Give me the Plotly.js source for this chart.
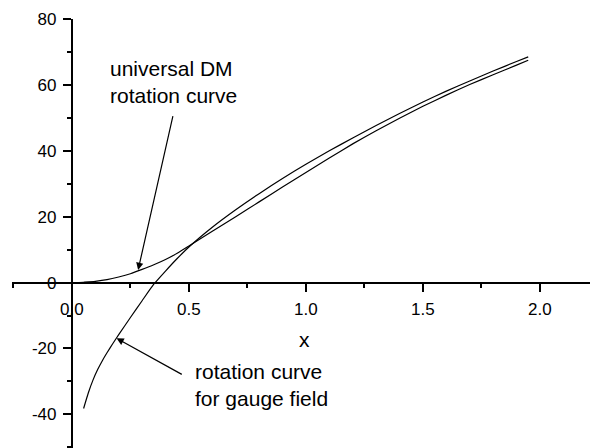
<!DOCTYPE html>
<html>
<head>
<meta charset="utf-8">
<script src="https://cdn.plot.ly/plotly-3.0.1.min.js"></script>
<style>html,body{margin:0;padding:0;background:#fff;}#chart{width:590px;height:448px;}</style>
</head>
<body>
<div id="chart"></div>
<script>
// Universal DM rotation curve
const dmX = [0.03, 0.05, 0.1, 0.15, 0.2, 0.25, 0.3, 0.35, 0.4, 0.45, 0.5, 0.6, 0.7, 0.8, 0.9, 1.0, 1.1, 1.2, 1.3, 1.4, 1.5, 1.6, 1.7, 1.8, 1.9, 1.95];
const dmY = [0.0, 0.1, 0.4, 0.9, 1.7, 2.7, 4.0, 5.4, 7.0, 8.9, 11.1, 15.6, 20.0, 24.5, 29.0, 33.4, 37.8, 42.1, 46.1, 49.9, 53.5, 56.9, 60.1, 63.1, 66.0, 67.5];
// Rotation curve for gauge field
const gX = [0.05, 0.07, 0.09, 0.11, 0.13, 0.15, 0.175, 0.2, 0.25, 0.3, 0.35, 0.4, 0.45, 0.5, 0.6, 0.7, 0.8, 0.9, 1.0, 1.1, 1.2, 1.3, 1.4, 1.5, 1.6, 1.7, 1.8, 1.9, 1.95];
const gY = [-38.2, -33.5, -29.6, -26.4, -23.7, -21.3, -18.5, -15.8, -10.6, -5.5, -0.5, 3.5, 7.3, 10.8, 16.8, 22.1, 27.0, 31.6, 35.9, 40.0, 43.9, 47.7, 51.3, 54.8, 58.1, 61.2, 64.2, 67.1, 68.5];

const xTickVals = [0, 0.5, 1.0, 1.5, 2.0];
const xTickText = ['0.0', '0.5', '1.0', '1.5', '2.0'];
const yTickVals = [-40, -20, 0, 20, 40, 60, 80];
const yTickText = ['-40', '-20', '0', '20', '40', '60', '80'];

const labelDM = 'universal DM<br>rotation curve';
const labelGauge = 'rotation curve<br>for gauge field';
const xTitle = 'x';

const fontFam = 'Liberation Sans, Arial, sans-serif';

const traces = [
  {x: dmX, y: dmY, mode: 'lines', line: {color: '#000', width: 1.2, shape: 'spline', smoothing: 0.5}, showlegend: false, hoverinfo: 'skip'},
  {x: gX, y: gY, mode: 'lines', line: {color: '#000', width: 1.2, shape: 'spline', smoothing: 0.5}, showlegend: false, hoverinfo: 'skip'}
];

const layout = {
  width: 590, height: 448,
  margin: {l: 12, r: 0, t: 19, b: 0, pad: 0},
  paper_bgcolor: '#fff', plot_bgcolor: '#fff',
  font: {family: fontFam, size: 17, color: '#000'},
  showlegend: false,
  xaxis: {
    range: [-0.256, 2.214], anchor: 'free', position: 0.3856,
    showgrid: false, zeroline: false, showline: true, linecolor: '#000', linewidth: 2,
    ticks: 'outside', ticklen: 8, tickwidth: 2, tickcolor: '#000',
    tickmode: 'array', tickvals: xTickVals, ticktext: xTickText,
    tickfont: {family: fontFam, size: 17, color: '#000'},
    ticklabelstandoff: 3,
    minor: {dtick: 0.25, tick0: 0, ticks: 'outside', ticklen: 4, tickwidth: 2, tickcolor: '#000', showgrid: false},
    automargin: false
  },
  yaxis: {
    range: [-50.2, 80], anchor: 'free', position: 0.1036,
    showgrid: false, zeroline: false, showline: true, linecolor: '#000', linewidth: 2,
    ticks: 'outside', ticklen: 8, tickwidth: 2, tickcolor: '#000',
    tickmode: 'array', tickvals: yTickVals, ticktext: yTickText,
    tickfont: {family: fontFam, size: 17, color: '#000'},
    ticklabelstandoff: 3,
    minor: {dtick: 10, tick0: 0, ticks: 'outside', ticklen: 4, tickwidth: 2, tickcolor: '#000', showgrid: false},
    automargin: false
  },
  annotations: [
    {x: 0.154, y: 61.0, xref: 'x', yref: 'y', text: labelDM, showarrow: false, xanchor: 'left', yanchor: 'middle', align: 'left', font: {family: fontFam, size: 21, color: '#000'}},
    {x: 0.516, y: -31.0, xref: 'x', yref: 'y', text: labelGauge, showarrow: false, xanchor: 'left', yanchor: 'middle', align: 'left', font: {family: fontFam, size: 21, color: '#000'}},
    {x: 0.996, y: -17.3, xref: 'x', yref: 'y', text: xTitle, showarrow: false, xanchor: 'center', yanchor: 'middle', font: {family: fontFam, size: 21, color: '#000'}},
    {x: 0.283, y: 3.86, ax: 0.433, ay: 51.0, xref: 'x', yref: 'y', axref: 'x', ayref: 'y', text: '', showarrow: true, arrowhead: 2, arrowsize: 1.2, arrowwidth: 1.2, arrowcolor: '#000'},
    {x: 0.191, y: -16.9, ax: 0.476, ay: -28.1, xref: 'x', yref: 'y', axref: 'x', ayref: 'y', text: '', showarrow: true, arrowhead: 2, arrowsize: 1.2, arrowwidth: 1.2, arrowcolor: '#000'}
  ]
};

Plotly.newPlot('chart', traces, layout, {displayModeBar: false, staticPlot: true});
</script>
</body>
</html>
